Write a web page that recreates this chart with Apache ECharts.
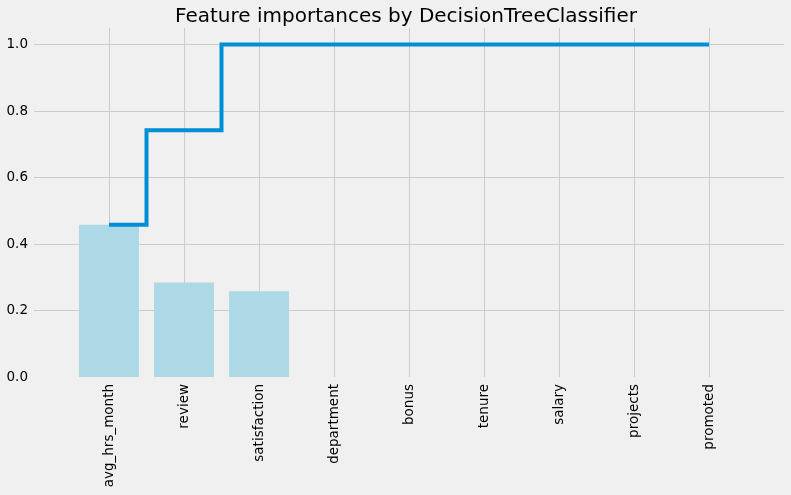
<!DOCTYPE html>
<html>
<head>
<meta charset="utf-8">
<script src="https://cdn.jsdelivr.net/npm/echarts@6/dist/echarts.min.js"></script>
<style>
html,body{margin:0;padding:0;background:#f0f0f0;}
#chart{width:791px;height:495px;}
</style>
</head>
<body>
<div id="chart"></div>
<script>
const categories = ['avg_hrs_month','review','satisfaction','department','bonus','tenure','salary','projects','promoted'];
const importances = [0.458, 0.284, 0.258, 0, 0, 0, 0, 0, 0];
const cumulative = [0.458, 0.742, 1.0, 1.0, 1.0, 1.0, 1.0, 1.0, 1.0];
const yTicks = ['0.0','0.2','0.4','0.6','0.8','1.0'];
const titleText = 'Feature importances by DecisionTreeClassifier';

const barData = importances.map((v, i) => [i, v]);
const lineData = cumulative.map((v, i) => [i, v]);

const font = 'DejaVu Sans';
const chart = echarts.init(document.getElementById('chart'), null, {renderer: 'canvas'});
chart.setOption({
  backgroundColor: '#f0f0f0',
  animation: false,
  title: {
    text: titleText,
    left: 401,
    top: 2,
    textAlign: 'center',
    textStyle: {fontFamily: font, fontSize: 20, fontWeight: 'normal', color: '#000'}
  },
  grid: {left: 34, right: 7, top: 28, bottom: 118, containLabel: false},
  xAxis: {
    type: 'value',
    min: -1,
    max: 9,
    interval: 1,
    axisLine: {show: false},
    axisTick: {show: false},
    axisLabel: {
      rotate: 90,
      margin: 7,
      fontFamily: font,
      fontSize: 13.5,
      color: '#000',
      formatter: function (v) {
        const i = Math.round(v);
        return (i >= 0 && i < categories.length) ? categories[i] : '';
      }
    },
    splitLine: {
      show: true,
      lineStyle: {
        color: ['rgba(0,0,0,0)', '#cbcbcb', '#cbcbcb', '#cbcbcb', '#cbcbcb', '#cbcbcb', '#cbcbcb', '#cbcbcb', '#cbcbcb', '#cbcbcb', 'rgba(0,0,0,0)'],
        width: 1
      }
    }
  },
  yAxis: {
    type: 'value',
    min: 0,
    max: 1.05,
    interval: 0.2,
    axisLine: {show: false},
    axisTick: {show: false},
    axisLabel: {
      margin: 6,
      fontFamily: font,
      fontSize: 13.5,
      color: '#000',
      formatter: function (v) {
        const i = Math.round(v / 0.2);
        return (Math.abs(v - i * 0.2) < 1e-6 && i < yTicks.length) ? yTicks[i] : '';
      }
    },
    splitLine: {
      show: true,
      lineStyle: {
        color: ['rgba(0,0,0,0)', '#cbcbcb', '#cbcbcb', '#cbcbcb', '#cbcbcb', '#cbcbcb', 'rgba(0,0,0,0)'],
        width: 1
      }
    }
  },
  series: [
    {
      type: 'bar',
      data: barData,
      barWidth: 60,
      itemStyle: {color: '#add8e6'},
      z: 2
    },
    {
      type: 'line',
      data: lineData,
      step: 'middle',
      symbol: 'none',
      lineStyle: {color: '#008fd5', width: 4, join: 'miter', cap: 'butt'},
      z: 3
    }
  ]
});
</script>
</body>
</html>
